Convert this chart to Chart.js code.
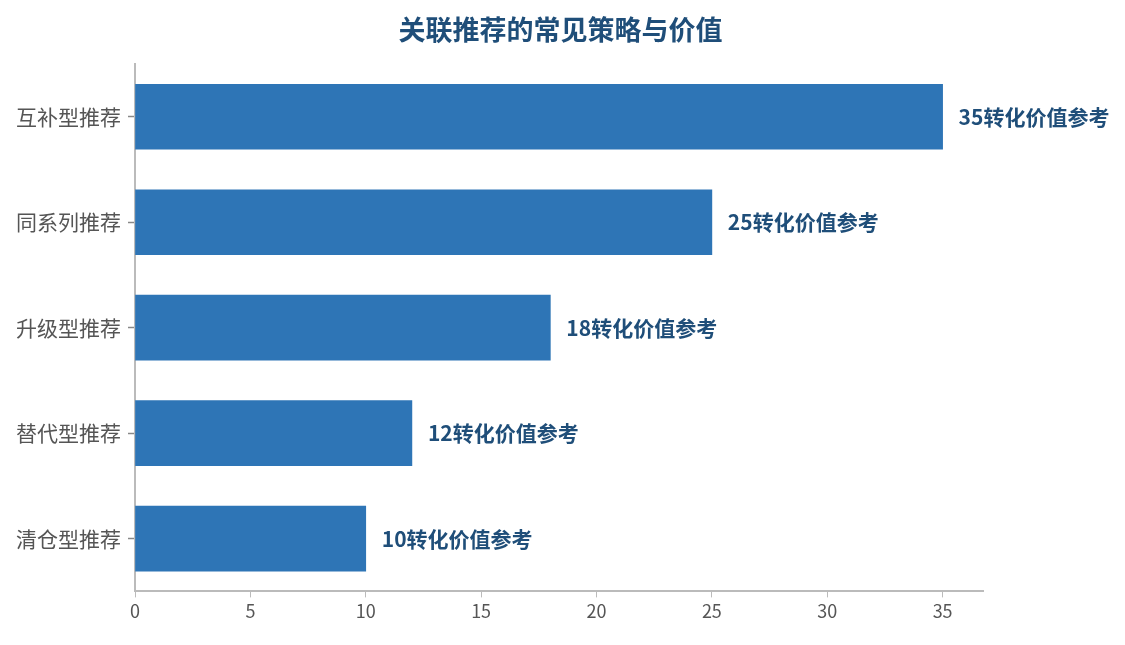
<!DOCTYPE html>
<html lang="zh">
<head>
  <meta charset="UTF-8">
  <title>关联推荐的常见策略与价值</title>
  <script src="https://cdn.jsdelivr.net/npm/chart.js"></script>
  <style>
    body { margin: 0; background: #fff; }
    #wrap { width: 1125px; height: 645px; }
  </style>
</head>
<body>
<div id="wrap"><canvas id="myChart"></canvas></div>
<script>
  const chartTitle = '关联推荐的常见策略与价值';
  const categories = ['互补型推荐', '同系列推荐', '升级型推荐', '替代型推荐', '清仓型推荐'];
  const values = [35, 25, 18, 12, 10];
  const xTicks = [0, 5, 10, 15, 20, 25, 30, 35];
  const valueSuffix = '转化价值参考';

  const font = '"Noto Sans CJK SC", "Noto Sans", sans-serif';

  // title centred on the whole canvas, value text after each bar
  const extras = {
    id: 'extras',
    afterDatasetsDraw(chart) {
      const ctx = chart.ctx;
      const meta = chart.getDatasetMeta(0);
      ctx.save();
      ctx.font = 'bold 21px ' + font;
      ctx.fillStyle = '#1f4e79';
      ctx.textAlign = 'left';
      ctx.textBaseline = 'middle';
      meta.data.forEach((bar, i) => {
        ctx.fillText(values[i] + valueSuffix, bar.x + 16, bar.y);
      });
      ctx.font = 'bold 27px ' + font;
      ctx.textAlign = 'center';
      ctx.fillText(chartTitle, chart.width / 2 - 2, 30);
      ctx.restore();
    }
  };

  const ctx = document.getElementById('myChart').getContext('2d');
  new Chart(ctx, {
    type: 'bar',
    data: {
      labels: categories,
      datasets: [{
        data: values,
        backgroundColor: '#2e75b6',
        barThickness: 65
      }]
    },
    options: {
      indexAxis: 'y',
      responsive: true,
      maintainAspectRatio: false,
      animation: false,
      layout: { padding: { left: 8, right: 142, top: 64, bottom: 20 } },
      plugins: {
        legend: { display: false },
        tooltip: { enabled: false }
      },
      scales: {
        x: {
          min: 0,
          max: 36.75,
          afterBuildTicks(axis) {
            axis.ticks = xTicks.map(v => ({ value: v }));
          },
          grid: { drawOnChartArea: false, drawTicks: true, tickLength: 6, color: '#bbb' },
          border: { color: '#bbb', width: 2 },
          ticks: { color: '#555', font: { family: font, size: 18 }, padding: 3 }
        },
        y: {
          afterFit(axis) { axis.width = 127; },
          grid: { offset: false, drawOnChartArea: false, drawTicks: true, tickLength: 7, tickColor: '#888', tickWidth: 1.5, color: '#888' },
          border: { color: '#bbb', width: 2 },
          ticks: { color: '#555', font: { family: font, size: 21 }, padding: 7 }
        }
      }
    },
    plugins: [extras]
  });
</script>
</body>
</html>
